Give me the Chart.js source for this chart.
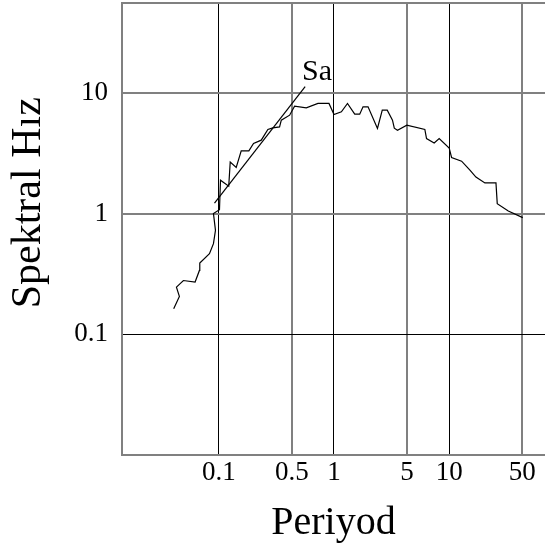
<!DOCTYPE html>
<html>
<head>
<meta charset="utf-8">
<script src="https://cdn.jsdelivr.net/npm/chart.js@4/dist/chart.umd.min.js"></script>
<style>
  html, body { margin: 0; padding: 0; background: #fff; }
  #wrap { width: 545px; height: 550px; }
</style>
</head>
<body>
<div id="wrap"><canvas id="c"></canvas></div>
<script>
// Spectrum curve (period, value).
const periods = [0.0406, 0.0455, 0.0429, 0.0493, 0.0623, 0.0679, 0.0684, 0.083, 0.0899, 0.0936,
  0.0899, 0.1014, 0.1035, 0.122, 0.1257, 0.1417, 0.1566, 0.1824, 0.2003, 0.2337,
  0.2668, 0.2948, 0.337, 0.349, 0.412, 0.455, 0.575, 0.726, 0.905, 1.0,
  1.16, 1.31, 1.514, 1.673, 1.787, 1.976, 2.385, 2.626, 2.9, 3.22,
  3.34, 3.56, 4.29, 6.15, 6.36, 7.41, 8.19, 10.0, 10.49, 12.82,
  15.14, 17.07, 20.43, 25.48, 26.14, 32.6, 43.5];
const spectral = [0.163, 0.206, 0.246, 0.279, 0.271, 0.338, 0.389, 0.466, 0.564, 0.727,
  1.0, 1.079, 1.89, 1.686, 2.68, 2.41, 3.31, 3.31, 3.81, 4.06,
  4.98, 5.13, 5.23, 5.95, 6.54, 7.77, 7.52, 8.18, 8.18, 6.63,
  6.97, 8.18, 6.67, 6.67, 7.67, 7.67, 5.08, 7.2, 7.2, 5.95,
  5.1, 4.91, 5.4, 4.98, 4.19, 3.85, 4.19, 3.5, 2.92, 2.72,
  2.29, 2.01, 1.795, 1.795, 1.21, 1.051, 0.927];

// straight "Sa" line and its label
const saPeriods = [0.0918, 0.562];
const saValues = [1.224, 11.28];
const saLabel = { x: 0.713, y: 12.8, text: 'Sa' };

// the original puts the 0.5 / 5 / 50 lines a bit left of their true log position
const xTickValues = [0.1, 0.43, 1, 4.3, 10, 43];
const xTickLabels = ['0.1', '0.5', '1', '5', '10', '50'];
const xStrong = [0.1, 1, 10];
const yTickValues = [0.1, 1, 10, 55.6];
const yTickLabels = ['0.1', '1', '10', ''];
const yStrong = [0.1];

const SERIF = "'Liberation Serif', 'Times New Roman', serif";
Chart.defaults.font.family = SERIF;
Chart.defaults.color = '#000';

const gridColor = (strong) => (c) => (c.tick && strong.includes(c.tick.value)) ? '#000' : '#808080';
const gridWidth = (strong) => (c) => (c.tick && strong.includes(c.tick.value)) ? 1 : 2;

const saLabelPlugin = {
  id: 'sa-label',
  afterDatasetsDraw(chart) {
    const ctx = chart.ctx;
    const px = chart.scales.x.getPixelForValue(saLabel.x);
    const py = chart.scales.y.getPixelForValue(saLabel.y);
    ctx.save();
    ctx.font = '30px ' + SERIF;
    ctx.fillStyle = '#000';
    ctx.textAlign = 'center';
    ctx.textBaseline = 'alphabetic';
    ctx.fillText(saLabel.text, px, py);
    ctx.restore();
  },
};

new Chart(document.getElementById('c'), {
  type: 'line',
  data: {
    datasets: [
      {
        label: 'Spektrum',
        data: periods.map((p, i) => ({ x: p, y: spectral[i] })),
        borderColor: '#000', borderWidth: 1.2, pointRadius: 0, tension: 0, fill: false,
      },
      {
        label: 'Sa',
        data: saPeriods.map((p, i) => ({ x: p, y: saValues[i] })),
        borderColor: '#000', borderWidth: 1.2, pointRadius: 0, tension: 0, fill: false,
      },
    ],
  },
  options: {
    responsive: true, maintainAspectRatio: false, animation: false,
    layout: { padding: { top: 3, right: 0, left: 0, bottom: 0 } },
    plugins: { legend: { display: false }, tooltip: { enabled: false } },
    scales: {
      x: {
        type: 'logarithmic', min: 0.01445, max: 67.9,
        afterBuildTicks: (s) => { s.ticks = xTickValues.map(v => ({ value: v })); },
        afterFit: (s) => { s.height = 95; s.paddingLeft = 0; s.paddingRight = 0; },
        ticks: {
          autoSkip: false, maxRotation: 0, padding: 2,
          font: { size: 27 },
          callback: (v, i) => xTickLabels[i],
        },
        grid: { color: gridColor(xStrong), lineWidth: gridWidth(xStrong), drawTicks: false },
        border: { display: true, color: '#808080', width: 2 },
        title: { display: true, text: 'Periyod', font: { size: 40 }, padding: { top: 0, bottom: 3 } },
      },
      y: {
        type: 'logarithmic', min: 0.01, max: 55.6,
        afterBuildTicks: (s) => { s.ticks = yTickValues.map(v => ({ value: v })); },
        afterFit: (s) => { s.width = 122; s.paddingTop = 0; s.paddingBottom = 0; },
        ticks: {
          autoSkip: false, padding: 14,
          font: { size: 27 },
          callback: (v, i) => yTickLabels[i],
        },
        grid: { color: gridColor(yStrong), lineWidth: gridWidth(yStrong), drawTicks: false },
        border: { display: true, color: '#808080', width: 2 },
        title: { display: true, text: '     Spektral Hız', font: { size: 42 }, padding: { top: 4, bottom: 0 } },
      },
    },
  },
  plugins: [saLabelPlugin],
});
</script>
</body>
</html>
